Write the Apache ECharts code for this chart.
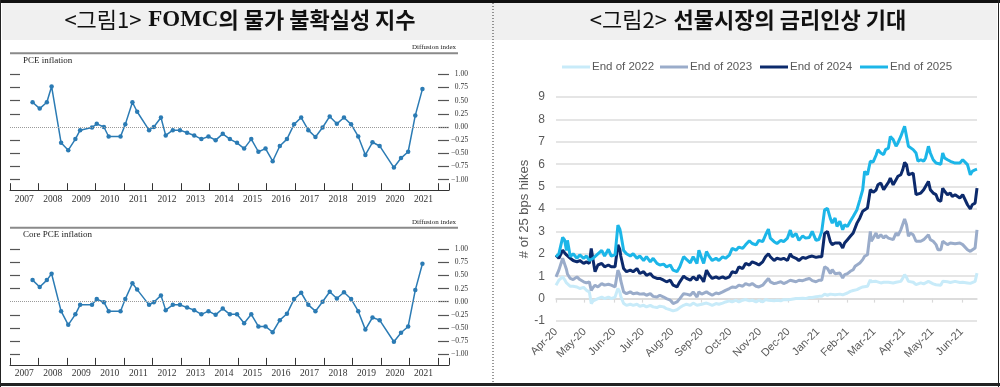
<!DOCTYPE html>
<html><head><meta charset="utf-8">
<script src="https://cdn.jsdelivr.net/npm/echarts@6/dist/echarts.min.js"></script>
<style>html,body{margin:0;padding:0;background:#fff}#c{width:1000px;height:387px}</style>
</head><body><div id="c"></div>
<script>
// ---------- Left panel data (FOMC SEP diffusion index) ----------
const sepDates = ['2007-10',
 '2008-01','2008-04','2008-06','2008-10',
 '2009-01','2009-04','2009-06','2009-11',
 '2010-01','2010-04','2010-06','2010-11',
 '2011-01','2011-04','2011-06','2011-11',
 '2012-01','2012-04','2012-06','2012-09','2012-12',
 '2013-03','2013-06','2013-09','2013-12',
 '2014-03','2014-06','2014-09','2014-12',
 '2015-03','2015-06','2015-09','2015-12',
 '2016-03','2016-06','2016-09','2016-12',
 '2017-03','2017-06','2017-09','2017-12',
 '2018-03','2018-06','2018-09','2018-12',
 '2019-03','2019-06','2019-09','2019-12',
 '2020-06','2020-09','2020-12',
 '2021-03','2021-06'];
const pceInflation = [0.47,
 0.35,0.47,0.77,-0.30,
 -0.44,-0.23,-0.06,-0.01,
 0.06,0.00,-0.18,-0.18,
 0.05,0.47,0.29,-0.06,
 0.00,0.18,-0.16,-0.06,-0.06,
 -0.11,-0.16,-0.23,-0.18,
 -0.25,-0.13,-0.23,-0.30,
 -0.41,-0.23,-0.47,-0.41,
 -0.65,-0.36,-0.23,0.05,
 0.18,-0.06,-0.19,-0.01,
 0.20,0.06,0.18,0.05,
 -0.18,-0.53,-0.29,-0.36,
 -0.77,-0.59,-0.47,
 0.22,0.72];
const corePceInflation = [0.41,
 0.28,0.41,0.53,-0.18,
 -0.44,-0.24,-0.06,-0.06,
 0.05,-0.01,-0.18,-0.18,
 0.05,0.35,0.23,-0.06,
 -0.01,0.12,-0.16,-0.06,-0.06,
 -0.11,-0.16,-0.24,-0.18,
 -0.25,-0.13,-0.24,-0.24,
 -0.41,-0.24,-0.47,-0.47,
 -0.58,-0.35,-0.23,0.05,
 0.17,-0.06,-0.18,0.00,
 0.19,0.06,0.18,0.05,
 -0.18,-0.53,-0.30,-0.35,
 -0.76,-0.59,-0.47,
 0.22,0.72];
const yearLabels = [2007,2008,2009,2010,2011,2012,2013,2014,2015,2016,2017,2018,2019,2020,2021];
const diffusionTicks = [-1,-0.75,-0.5,-0.25,0,0.25,0.5,0.75,1];

// ---------- Right panel data (futures-implied 25bp hikes) ----------
const futDates = ['2020-04-01','2020-04-04','2020-04-08','2020-04-10','2020-04-12','2020-04-13','2020-04-16','2020-04-19','2020-04-23','2020-04-26','2020-04-30',
'2020-05-03','2020-05-06','2020-05-08','2020-05-10','2020-05-12','2020-05-15','2020-05-19','2020-05-22','2020-05-26','2020-05-29',
'2020-06-02','2020-06-05','2020-06-07','2020-06-08','2020-06-11','2020-06-14','2020-06-18','2020-06-21','2020-06-25','2020-06-28',
'2020-07-02','2020-07-05','2020-07-09','2020-07-12','2020-07-16','2020-07-19','2020-07-23','2020-07-26','2020-07-30',
'2020-08-02','2020-08-06','2020-08-09','2020-08-13','2020-08-16','2020-08-20','2020-08-23','2020-08-27','2020-08-29',
'2020-09-01','2020-09-03','2020-09-06','2020-09-09','2020-09-12','2020-09-16','2020-09-19','2020-09-23','2020-09-26','2020-09-30',
'2020-10-03','2020-10-07','2020-10-10','2020-10-14','2020-10-17','2020-10-21','2020-10-24','2020-10-28','2020-10-31',
'2020-11-04','2020-11-07','2020-11-10','2020-11-12','2020-11-16','2020-11-19','2020-11-23','2020-11-26','2020-11-30',
'2020-12-03','2020-12-05','2020-12-09','2020-12-12','2020-12-16','2020-12-19','2020-12-23','2020-12-26','2020-12-30',
'2021-01-02','2021-01-05','2021-01-08','2021-01-11','2021-01-14','2021-01-16','2021-01-19','2021-01-21','2021-01-24','2021-01-27','2021-01-29',
'2021-02-01','2021-02-04','2021-02-07','2021-02-09','2021-02-11','2021-02-14','2021-02-17','2021-02-19','2021-02-22','2021-02-25','2021-02-26','2021-02-28',
'2021-03-03','2021-03-05','2021-03-08','2021-03-11','2021-03-13','2021-03-16','2021-03-18','2021-03-21','2021-03-24','2021-03-26','2021-03-29','2021-03-31',
'2021-04-02','2021-04-04','2021-04-06','2021-04-08','2021-04-11','2021-04-14','2021-04-16','2021-04-19','2021-04-22','2021-04-24','2021-04-27','2021-04-29',
'2021-05-02','2021-05-05','2021-05-07','2021-05-10','2021-05-12','2021-05-14','2021-05-17','2021-05-20','2021-05-22','2021-05-25','2021-05-27','2021-05-30',
'2021-06-02','2021-06-04','2021-06-07','2021-06-10','2021-06-12','2021-06-15','2021-06-17'];
const endOf2022 = [0.6,0.82,0.97,0.85,0.7,0.65,0.55,0.55,0.52,0.45,0.5,
0.37,0.3,-0.22,-0.1,-0.07,0.0,0.07,0.0,0.07,0.0,
0.07,0.45,0.3,0.1,-0.22,-0.3,-0.25,-0.3,-0.25,-0.34,
-0.3,-0.37,-0.3,-0.37,-0.4,-0.34,-0.37,-0.45,-0.5,
-0.55,-0.5,-0.4,-0.3,-0.25,-0.3,-0.2,-0.3,-0.25,
-0.25,-0.3,-0.2,-0.25,-0.3,-0.22,-0.25,-0.2,-0.15,-0.1,
-0.15,-0.07,-0.15,-0.07,-0.04,-0.1,-0.07,-0.15,-0.07,
-0.15,-0.04,-0.07,-0.07,-0.1,-0.07,-0.1,-0.05,-0.05,
-0.04,-0.02,0.0,0.0,0.02,0.0,0.05,0.05,0.08,
0.1,0.1,0.2,0.15,0.2,0.22,0.17,0.2,0.2,0.17,0.2,
0.25,0.32,0.36,0.4,0.4,0.47,0.52,0.55,0.55,0.84,0.75,0.72,
0.77,0.72,0.7,0.73,0.7,0.73,0.72,0.7,0.73,0.75,0.77,0.9,
1.07,0.95,0.77,0.7,0.73,0.62,0.65,0.7,0.66,0.7,0.77,0.7,
0.66,0.62,0.58,0.6,0.77,0.7,0.75,0.72,0.7,0.77,0.7,0.72,
0.73,0.77,0.7,0.68,0.7,0.77,1.14];
const endOf2023 = [0.97,1.27,1.8,1.55,1.3,1.1,0.9,0.85,0.97,0.85,0.75,
0.7,0.75,0.37,0.5,0.6,0.52,0.67,0.6,0.64,0.6,
0.52,1.27,1.05,0.8,0.3,0.22,0.3,0.22,0.25,0.2,
0.22,0.15,0.22,0.1,0.07,0.15,0.07,0.0,-0.07,
-0.22,-0.15,0.0,0.22,0.2,0.15,0.3,0.07,0.3,
0.2,0.15,0.3,0.22,0.15,0.25,0.22,0.3,0.37,0.45,
0.52,0.5,0.6,0.55,0.67,0.6,0.67,0.55,0.52,
0.6,0.75,0.9,0.75,0.67,0.7,0.75,0.67,0.75,
0.82,0.75,0.75,0.82,0.8,0.85,0.9,0.8,0.75,
0.82,0.82,1.42,1.34,1.12,1.29,1.11,1.07,1.14,0.92,1.07,
1.11,1.22,1.29,1.44,1.51,1.59,1.74,1.89,1.96,3.0,2.56,2.7,
2.93,2.7,2.85,2.7,2.81,2.7,2.78,2.63,2.93,2.81,3.07,3.0,
3.55,3.3,2.78,2.93,2.85,2.56,2.63,2.56,2.63,2.56,2.85,2.63,
2.56,2.41,2.18,2.18,2.56,2.48,2.41,2.48,2.41,2.45,2.41,2.48,
2.41,2.33,2.18,2.11,2.18,2.26,3.07];
const endOf2024 = [1.94,1.8,2.16,2.05,1.95,1.9,1.8,1.7,1.64,1.7,1.57,
1.64,1.57,2.24,1.7,1.2,1.5,1.57,1.42,1.5,1.42,
1.42,2.4,2.2,1.9,1.34,1.2,1.27,1.2,1.34,1.12,
1.2,1.04,1.12,0.97,0.9,0.9,0.82,0.75,0.82,
0.6,0.52,0.75,1.0,0.9,0.82,0.97,0.82,1.04,
0.9,0.75,1.27,1.04,0.9,0.97,0.9,0.97,0.9,0.97,
1.2,1.15,1.42,1.34,1.57,1.5,1.64,1.57,1.5,
1.64,1.87,2.0,1.87,1.7,1.8,1.75,1.8,1.7,
2.0,1.87,1.8,1.7,1.84,1.8,1.87,1.9,1.84,
1.87,1.87,2.91,3.0,2.54,2.41,2.48,2.41,2.48,2.26,2.48,
2.63,2.78,2.93,3.0,3.37,3.6,3.9,3.97,4.04,4.86,4.9,4.75,
4.85,5.08,5.16,4.86,5.0,5.19,5.38,5.08,5.31,5.46,5.53,5.75,
6.08,5.98,5.53,5.46,5.6,4.64,4.71,4.71,4.86,4.79,5.23,4.86,
4.71,4.64,4.41,4.34,4.93,4.79,4.64,4.71,4.56,4.64,4.56,4.49,
4.64,4.56,4.19,4.0,4.19,4.26,4.93];
const endOf2025 = [1.87,2.0,2.73,2.62,2.15,2.6,1.87,2.0,1.8,1.95,1.8,
1.9,1.7,1.75,1.8,1.8,2.0,2.15,1.9,2.2,1.9,
1.95,3.28,3.1,2.9,2.15,2.0,1.9,2.0,1.8,1.9,
1.7,1.87,1.64,1.8,1.57,1.5,1.54,1.42,1.5,
1.27,1.2,1.42,1.87,1.75,1.6,1.87,1.57,2.16,
1.8,1.57,2.1,1.87,1.7,1.8,1.7,1.87,1.8,1.94,
2.24,2.16,2.3,2.24,2.4,2.58,2.46,2.4,2.6,
2.54,2.84,3.1,2.7,2.54,2.46,2.6,2.54,2.7,
3.06,2.76,2.9,2.6,2.8,2.7,2.73,3.0,2.6,
2.64,3.0,3.96,4.03,3.58,3.37,3.6,3.22,3.45,3.07,3.3,
3.22,3.45,3.67,3.6,3.97,4.41,4.86,5.68,5.53,6.13,6.05,6.1,
6.4,6.65,6.5,6.43,6.65,6.72,7.24,7.1,6.8,6.95,7.24,7.47,
7.69,7.66,6.8,6.72,6.65,6.5,6.13,6.2,6.13,6.28,6.8,6.5,
6.2,6.05,5.98,6.0,6.5,6.28,6.2,6.13,6.2,6.05,6.13,6.05,
6.2,6.28,5.98,5.53,5.68,5.75,5.78];
const monthTicks = ['2020-04-01','2020-05-01','2020-06-01','2020-07-01','2020-08-01','2020-09-01','2020-10-01','2020-11-01','2020-12-01','2021-01-01','2021-02-01','2021-03-01','2021-04-01','2021-05-01','2021-06-01'];
const seriesNames = ['End of 2022','End of 2023','End of 2024','End of 2025'];

// ---------- helpers ----------
const decYear = s => { const p = s.split('-').map(Number); return p[0] + (p[1]-0.5)/12; };
const ts = s => Date.parse(s + 'T00:00:00Z');
const MON = ['Jan','Feb','Mar','Apr','May','Jun','Jul','Aug','Sep','Oct','Nov','Dec'];
const monLabel = v => { const d = new Date(v); return MON[d.getUTCMonth()] + '-' + String(d.getUTCFullYear()).slice(2); };
const SERIF = '"Liberation Serif","Times New Roman",serif';
const SANS = '"Liberation Sans",Arial,sans-serif';
const KR = '"Noto Sans CJK KR",sans-serif';
const diffFmt = v => (v < 0 ? '\u2212' + Math.abs(v).toFixed(2) : '\u2002' + v.toFixed(2));

const yearTicks = yearLabels.concat([2022, 2022.39]);
const yearLabelPos = yearLabels.map(y => y + 0.5);
const lineBlue = '#2b7bb4';
const colors = ['#c8ebf9', '#9aacca', '#0c2a6c', '#1cb6e8'];
const legendLeft = [562, 660, 760, 860];

function leftX(gi) {
  return { type: 'value', gridIndex: gi, min: 2007, max: 2022.39,
    axisLine: { show: true, onZero: false, lineStyle: { color: '#333', width: 1 } },
    axisTick: { show: true, inside: true, length: 7, customValues: yearTicks, lineStyle: { color: '#333', width: 1 } },
    axisLabel: { customValues: yearLabelPos, formatter: v => String(Math.floor(v)), fontFamily: SERIF, fontSize: 9.5, color: '#333', margin: 4 },
    splitLine: { show: false } };
}
function leftYL(gi) {
  return { type: 'value', gridIndex: gi, min: -1.2, max: 1.2, position: 'left',
    axisLine: { show: false },
    axisTick: { show: true, inside: true, length: 10, customValues: diffusionTicks.filter(v => v !== 0), lineStyle: { color: '#555', width: 1.2 } },
    axisLabel: { show: false }, splitLine: { show: false } };
}
function leftYR(gi) {
  return { type: 'value', gridIndex: gi, min: -1.2, max: 1.2, position: 'right',
    axisLine: { show: false },
    axisTick: { show: true, inside: true, length: 11, customValues: diffusionTicks, lineStyle: { color: '#555', width: 1.2 } },
    axisLabel: { customValues: diffusionTicks, formatter: diffFmt, fontFamily: SERIF, fontSize: 7.5, color: '#333', margin: 2 },
    splitLine: { show: false } };
}
function leftSeries(name, vals, xi, yi) {
  return { type: 'line', name: name, xAxisIndex: xi, yAxisIndex: yi,
    data: sepDates.map((d, i) => [decYear(d), vals[i]]),
    symbol: 'circle', symbolSize: 4.5, showSymbol: true,
    lineStyle: { color: lineBlue, width: 1.5 }, itemStyle: { color: lineBlue },
    markLine: { silent: true, symbol: 'none', label: { show: false },
      lineStyle: { type: 'dotted', color: '#9a9a9a', width: 1 }, data: [{ yAxis: 0 }] } };
}

const chart = echarts.init(document.getElementById('c'), null, { renderer: 'canvas' });
const option = {
  animation: false,
  backgroundColor: '#ffffff',
  grid: [
    { left: 10, right: 551, top: 63.8, height: 126.4 },
    { left: 10, right: 551, top: 238.5, height: 126.4 },
    { left: 556, right: 23, top: 97, height: 224 }
  ],
  legend: seriesNames.map((n, k) => ({
    data: [n], left: legendLeft[k], top: 61, icon: 'rect', itemWidth: 28, itemHeight: 3, itemGap: 0,
    padding: 0, textStyle: { fontFamily: SANS, fontSize: 11.5, color: '#595959', padding: [0, 0, 0, -3] }
  })),
  xAxis: [
    leftX(0), leftX(1),
    { type: 'value', gridIndex: 2, min: ts('2020-04-01'), max: ts('2021-06-17'),
      axisLine: { show: true, onZero: true, lineStyle: { color: '#d9d9d9', width: 1.5 } },
      axisTick: { show: true, length: 4, customValues: monthTicks.map(ts), lineStyle: { color: '#d9d9d9', width: 1.2 } },
      axisLabel: { show: false }, splitLine: { show: false } },
    { type: 'value', gridIndex: 2, min: ts('2020-04-01'), max: ts('2021-06-17'), position: 'bottom',
      axisLine: { show: false, onZero: false }, axisTick: { show: false },
      axisLabel: { customValues: monthTicks.map(ts), formatter: monLabel, rotate: 45, margin: 9,
        fontFamily: SANS, fontSize: 11, color: '#595959' },
      splitLine: { show: false } }
  ],
  yAxis: [
    leftYL(0), leftYR(0), leftYL(1), leftYR(1),
    { type: 'value', gridIndex: 2, min: -1, max: 9, interval: 1,
      axisLine: { show: false }, axisTick: { show: false },
      axisLabel: { fontFamily: SANS, fontSize: 12, color: '#595959', margin: 11 },
      splitLine: { lineStyle: { color: '#dcdcdc', width: 1.5 } },
      name: '# of 25 bps hikes', nameLocation: 'middle', nameGap: 22,
      nameTextStyle: { fontFamily: SANS, fontSize: 13, color: '#595959' } }
  ],
  series: [
    leftSeries('PCE inflation', pceInflation, 0, 1),
    leftSeries('Core PCE inflation', corePceInflation, 1, 3),
    ...[endOf2022, endOf2023, endOf2024, endOf2025].map((vals, k) => ({
      type: 'line', name: seriesNames[k], xAxisIndex: 2, yAxisIndex: 4,
      data: futDates.map((d, i) => [ts(d), vals[i]]),
      showSymbol: false, symbol: 'none', color: colors[k],
      lineStyle: { color: colors[k], width: 3 }, z: 3 + k
    }))
  ],
  graphic: [
    { type: 'rect', z: -10, shape: { x: 2, y: 3, width: 995, height: 37 }, style: { fill: '#f0f0f0' } },
    { type: 'line', z: 10, shape: { x1: 0, y1: 1.5, x2: 1000, y2: 1.5 }, style: { stroke: '#111', lineWidth: 3 } },
    { type: 'line', z: 10, shape: { x1: 0, y1: 384.5, x2: 1000, y2: 384.5 }, style: { stroke: '#222', lineWidth: 3 } },
    { type: 'line', z: 10, shape: { x1: 0.5, y1: 0, x2: 0.5, y2: 387 }, style: { stroke: '#222', lineWidth: 1 } },
    { type: 'line', z: 10, shape: { x1: 998.5, y1: 0, x2: 998.5, y2: 387 }, style: { stroke: '#222', lineWidth: 1 } },
    { type: 'line', z: 10, shape: { x1: 493, y1: 3, x2: 493, y2: 383 }, style: { stroke: '#333', lineWidth: 1, lineDash: [1, 2] } },
    // left headers
    { type: 'line', shape: { x1: 10, y1: 53.3, x2: 458, y2: 53.3 }, style: { stroke: '#8a8a8a', lineWidth: 2 } },
    { type: 'line', shape: { x1: 10, y1: 227.7, x2: 458, y2: 227.7 }, style: { stroke: '#8a8a8a', lineWidth: 2 } },
    { type: 'text', x: 456, y: 47, style: { text: 'Diffusion index', font: '7px ' + SERIF, fill: '#222', align: 'right', verticalAlign: 'middle' } },
    { type: 'text', x: 456, y: 222, style: { text: 'Diffusion index', font: '7px ' + SERIF, fill: '#222', align: 'right', verticalAlign: 'middle' } },
    { type: 'text', x: 23, y: 60.5, style: { text: 'PCE inflation', font: '9px ' + SERIF, fill: '#222', align: 'left', verticalAlign: 'middle' } },
    { type: 'text', x: 23, y: 235, style: { text: 'Core PCE inflation', font: '9px ' + SERIF, fill: '#222', align: 'left', verticalAlign: 'middle' } },
    // panel titles
    { type: 'text', x: 240, y: 20, style: {
        text: '{a|<그림1>}  {b|FOMC}{c|의 물가 불확실성 지수}', align: 'center', verticalAlign: 'middle',
        rich: { a: { fontFamily: KR, fontSize: 22, fill: '#111' },
                b: { fontFamily: SERIF, fontSize: 23, fontWeight: 'bold', fill: '#111' },
                c: { fontFamily: KR, fontSize: 22, fontWeight: 'bold', fill: '#111' } } } },
    { type: 'text', x: 748, y: 20, style: {
        text: '{a|<그림2>}  {c|선물시장의 금리인상 기대}', align: 'center', verticalAlign: 'middle',
        rich: { a: { fontFamily: KR, fontSize: 22, fill: '#111' },
                c: { fontFamily: KR, fontSize: 22, fontWeight: 'bold', fill: '#111' } } } }
  ]
};
chart.setOption(option);
</script></body></html>
